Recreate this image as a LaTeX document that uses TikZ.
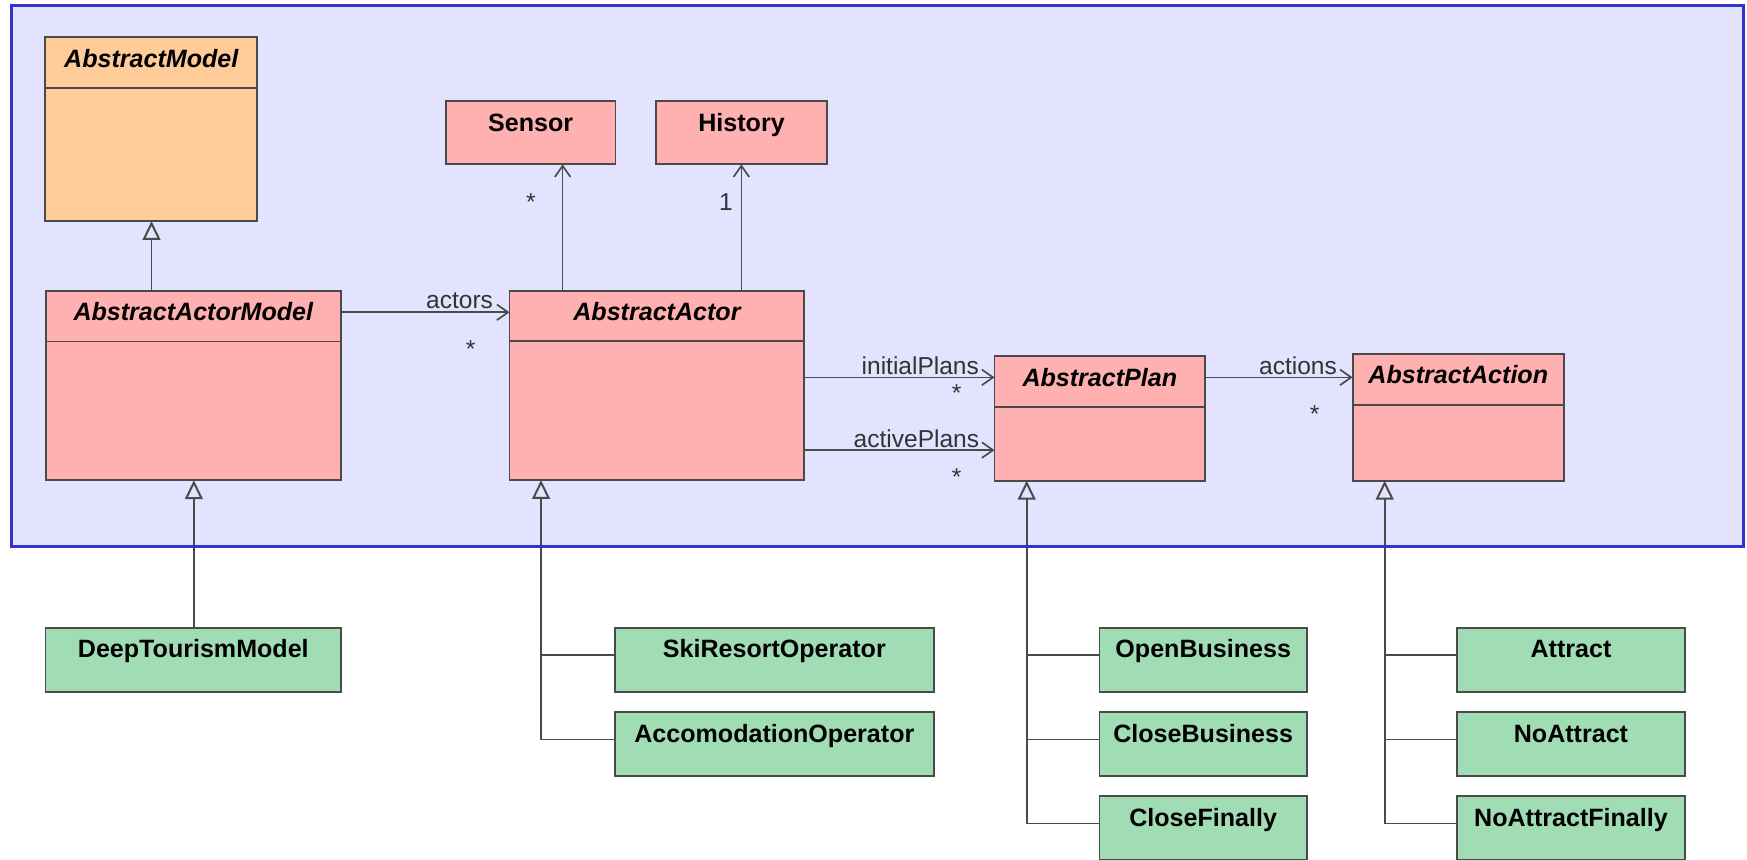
\documentclass[tikz,border=0pt]{standalone}
\usepackage{fontspec}
\setmainfont{Liberation Sans}
\usetikzlibrary{arrows.meta,calc}
\definecolor{pkgfill}{HTML}{E3E3FF}
\definecolor{pkgline}{HTML}{3333CC}
\definecolor{absfill}{HTML}{FFB0B0}
\definecolor{rootfill}{HTML}{FFCC99}
\definecolor{concfill}{HTML}{A1DDB4}
\definecolor{edgegray}{HTML}{4A4A4A}

\begin{document}
\begin{tikzpicture}[x=1pt,y=-1pt,
  box/.style={draw=edgegray,line width=1.7pt,anchor=north west,inner sep=0pt,outer sep=0pt},
  rootbox/.style={box,fill=rootfill},
  absbox/.style={box,fill=absfill},
  concbox/.style={box,fill=concfill},
  cname/.style={anchor=base,inner sep=0pt,font=\fontsize{22.5}{24}\selectfont\bfseries},
  aname/.style={anchor=base,inner sep=0pt,font=\fontsize{22.5}{24}\selectfont\bfseries\itshape},
  role/.style={anchor=base,inner sep=0pt,font=\fontsize{22}{24}\selectfont,text=black!80},
  assoc/.style={draw=edgegray,line width=1.5pt,-{Straight Barb[length=10pt,width=14pt]}},
  gen/.style={draw=edgegray,line width=1.5pt,-{Triangle[open,length=17pt,width=16pt,line width=1.8pt]}},
  branch/.style={draw=edgegray,line width=1.5pt},
  divider/.style={draw=edgegray,line width=1.7pt}]

\useasboundingbox (0,0) rectangle (1568,771);
\fill[white] (0,0) rectangle (1568,771);

% package area
\node[fill=pkgfill,anchor=north west,minimum width=1555pt,minimum height=485.5pt,
      inner sep=0pt,outer sep=0pt] (pkg) at (10.2,5.3) {};

% ---- abstract classes inside the package
\node[rootbox,minimum width=190.5pt,minimum height=165.4pt] (am) at (40.5,33) {};
\node[aname] (am-n) at ($(am.north)+(0,27.5)$) {AbstractModel};
\draw[divider] ($(am.north west)+(0,46.3)$) -- ($(am.north east)+(0,46.3)$);

\node[absbox,minimum width=265pt,minimum height=170pt] (aam) at (41,261) {};
\node[aname] (aam-n) at ($(aam.north)+(0,27)$) {AbstractActorModel};
\draw[divider] ($(aam.north west)+(0,45.5)$) -- ($(aam.north east)+(0,45.5)$);

\node[absbox,minimum width=152.2pt,minimum height=56.9pt] (sensor) at (400.2,90.6) {};
\node[cname] (sensor-n) at ($(sensor.north)+(0,27)$) {Sensor};

\node[absbox,minimum width=152.9pt,minimum height=56.9pt] (history) at (589.1,90.6) {};
\node[cname] (history-n) at ($(history.north)+(0,27)$) {History};

\node[absbox,minimum width=264.7pt,minimum height=169.8pt] (aa) at (457.3,261) {};
\node[aname] (aa-n) at ($(aa.north)+(0,27)$) {AbstractActor};
\draw[divider] ($(aa.north west)+(0,45)$) -- ($(aa.north east)+(0,45)$);

\node[absbox,minimum width=189.1pt,minimum height=111.9pt] (ap) at (892.6,319.5) {};
\node[aname] (ap-n) at ($(ap.north)+(0,27)$) {AbstractPlan};
\draw[divider] ($(ap.north west)+(0,45.5)$) -- ($(ap.north east)+(0,45.5)$);

\node[absbox,minimum width=189.7pt,minimum height=114pt] (aact) at (1214,317.4) {};
\node[aname] (aact-n) at ($(aact.north)+(0,27)$) {AbstractAction};
\draw[divider] ($(aact.north west)+(0,45.8)$) -- ($(aact.north east)+(0,45.8)$);

% ---- concrete classes
\node[concbox,minimum width=265.4pt,minimum height=57.5pt] (dtm) at (40.8,563.3) {};
\node[cname] (dtm-n) at ($(dtm.north)+(0,27)$) {DeepTourismModel};

\node[concbox,minimum width=286pt,minimum height=57.5pt] (ski) at (552,563.3) {};
\node[cname] (ski-n) at ($(ski.north)+(0,27)$) {SkiResortOperator};
\node[concbox,minimum width=286pt,minimum height=57.5pt] (acc) at (552,639) {};
\node[cname] (acc-n) at ($(acc.north)+(0,27)$) {AccomodationOperator};

\node[concbox,minimum width=186.2pt,minimum height=57.5pt] (open) at (986.8,563.3) {};
\node[cname] (open-n) at ($(open.north)+(0,27)$) {OpenBusiness};
\node[concbox,minimum width=186.2pt,minimum height=57.5pt] (close) at (986.8,639) {};
\node[cname] (close-n) at ($(close.north)+(0,27)$) {CloseBusiness};
\node[concbox,minimum width=186.2pt,minimum height=57.5pt] (closef) at (986.8,714.4) {};
\node[cname] (closef-n) at ($(closef.north)+(0,27)$) {CloseFinally};

\node[concbox,minimum width=204pt,minimum height=57.5pt] (attr) at (1308,563.3) {};
\node[cname] (attr-n) at ($(attr.north)+(0,27)$) {Attract};
\node[concbox,minimum width=204pt,minimum height=57.5pt] (noattr) at (1308,639) {};
\node[cname] (noattr-n) at ($(noattr.north)+(0,27)$) {NoAttract};
\node[concbox,minimum width=204pt,minimum height=57.5pt] (noattrf) at (1308,714.4) {};
\node[cname] (noattrf-n) at ($(noattrf.north)+(0,27)$) {NoAttractFinally};

% ---- associations
\draw[assoc] ($(aam.north east)+(0,19.3)$) -- ($(aa.north west)+(0,19.3)$);
\draw[assoc] ($(aa.north west)+(47.7,0)$) -- ($(sensor.south west)+(104.8,0)$);
\draw[assoc] ($(aa.north west)+(208.1,0)$) -- ($(history.south west)+(76.3,0)$);
\draw[assoc] ($(aa.north east)+(0,77.7)$) -- ($(ap.north west)+(0,19.2)$);
\draw[assoc] ($(aa.north east)+(0,143)$) -- ($(ap.north west)+(0,84.5)$);
\draw[assoc] ($(ap.north east)+(0,19.2)$) -- ($(aact.north west)+(0,21.3)$);

% role names and multiplicities
\node[role] (r-actors) at (412.5,276.7) {actors};
\node[role] (r-init) at (826,335.7) {initialPlans};
\node[role] (r-active) at (822.5,401.5) {activePlans};
\node[role] (r-actions) at (1165,335.7) {actions};
\node[role] (m-sensor) at (476.5,189.3) {*};
\node[role] (m-history) at (651.6,189) {1};
\node[role] (m-actors) at (422.5,320.8) {*};
\node[role] (m-init) at (858.7,360.8) {*};
\node[role] (m-active) at (858.7,435.8) {*};
\node[role] (m-actions) at (1180,378.8) {*};

% ---- generalizations
\draw[gen] ($(aam.north west)+(95,0)$) -- ($(am.south west)+(95.5,0)$);
\draw[gen] ($(dtm.north west)+(133.2,0)$) -- ($(aam.south west)+(133,0)$);

\draw[gen] ($(acc.north west)+(0,24.8)$) -| ($(aa.south west)+(28.3,0)$);
\draw[branch] ($(ski.north west)+(0,24.8)$) -- ($(ski.north west)+(-66.4,24.8)$);

\draw[gen] ($(closef.north west)+(0,24.8)$) -| ($(ap.south west)+(28.9,0)$);
\draw[branch] ($(open.north west)+(0,24.8)$) -- ($(open.north west)+(-65.3,24.8)$);
\draw[branch] ($(close.north west)+(0,24.8)$) -- ($(close.north west)+(-65.3,24.8)$);

\draw[gen] ($(noattrf.north west)+(0,24.8)$) -| ($(aact.south west)+(28.8,0)$);
\draw[branch] ($(attr.north west)+(0,24.8)$) -- ($(attr.north west)+(-65.2,24.8)$);
\draw[branch] ($(noattr.north west)+(0,24.8)$) -- ($(noattr.north west)+(-65.2,24.8)$);

% package border on top of the crossing lines
\draw[pkgline,line width=2.8pt] (pkg.north west) rectangle (pkg.south east);
\end{tikzpicture}
\end{document}
